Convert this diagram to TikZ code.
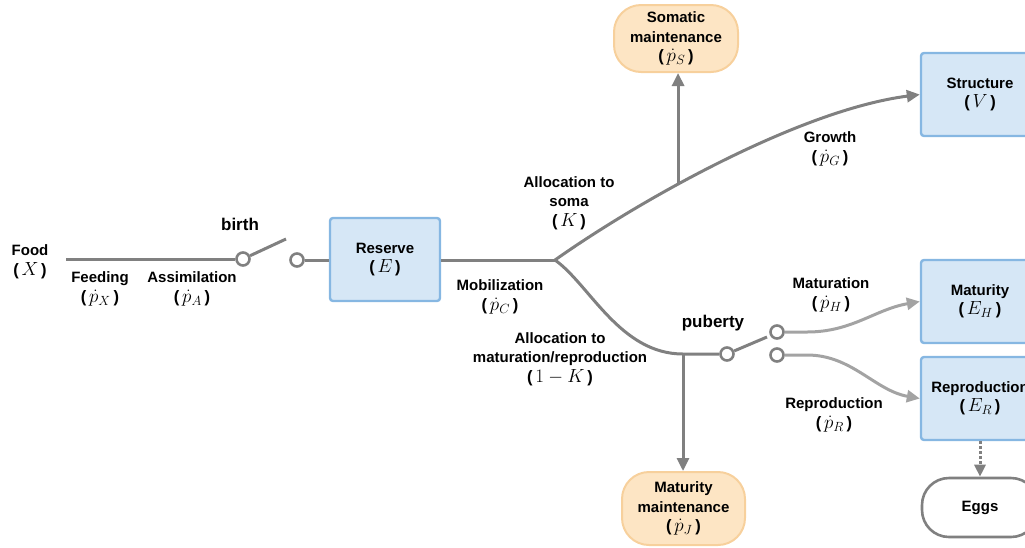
\documentclass[tikz,border=0pt]{standalone}
\usepackage{fix-cm}
\usepackage{fontspec}
\setmainfont{Liberation Sans}
\usetikzlibrary{arrows.meta}
\definecolor{lgray}{HTML}{808080}
\definecolor{lgray2}{HTML}{A3A3A3}
\definecolor{bfill}{HTML}{D6E7F6}
\definecolor{bdraw}{HTML}{86B7E2}
\definecolor{ofill}{HTML}{FDE5C4}
\definecolor{odraw}{HTML}{F7D09C}
\newcommand{\pq}[1]{{\fontsize{16.5}{19.5}\selectfont(\,{\fontsize{19}{19.5}\selectfont$#1$}\,)}}
\begin{document}
\begin{tikzpicture}[x=1pt,y=-1pt,
  lbl/.style={font=\fontsize{15}{19.5}\selectfont\bfseries, align=center, inner sep=0},
  big/.style={font=\fontsize{17}{20}\selectfont\bfseries, inner sep=0},
  flow/.style={draw=lgray, line width=3pt},
  arr/.style={flow, -{Triangle[length=13pt,width=12pt]}},
  arrl/.style={draw=lgray2, line width=3pt, -{Triangle[length=13pt,width=12pt]}},
  dotarr/.style={draw=lgray, line width=3pt, dotted, -{Triangle[length=12pt,width=11pt]}},
  bluebox/.style={lbl, draw=bdraw, fill=bfill, line width=2.4pt, rounded corners=3pt, minimum height=83pt},
  orangebox/.style={lbl, draw=odraw, fill=ofill, line width=2pt, rounded corners=27pt},
  eggbox/.style={lbl, draw=lgray, fill=white, line width=2.6pt, rounded corners=27pt},
  sw/.style={circle, draw=lgray, fill=white, line width=2.6pt, minimum size=13pt, inner sep=0}]
\useasboundingbox (0,0) rectangle (1025,547);

% boxes
\node[bluebox, minimum width=110pt] (reserve) at (385,259.5) {Reserve\\\pq{E}};
\node[bluebox, minimum width=118pt] (structure) at (980,94.5) {Structure\\\pq{V}};
\node[bluebox, minimum width=118pt] (maturity) at (980,301.5) {Maturity\\\pq{E_H}};
\node[bluebox, minimum width=118pt] (repro) at (980,398.5) {Reproduction\\\pq{E_R}};
\node[eggbox, minimum width=116pt, minimum height=59pt] (eggs) at (980,507.5) {Eggs};
\node[orangebox, minimum width=124pt, minimum height=67pt] (soma) at (676,38.5) {Somatic\\maintenance\\\pq{\dot p_S}};
\node[orangebox, minimum width=123pt, minimum height=73pt] (mmaint) at (683.5,508.5) {Maturity\\maintenance\\\pq{\dot p_J}};

% switches
\node[sw] (s1a) at (243,259) {};
\node[sw] (s1b) at (297,260) {};
\coordinate (s1tip) at (286,239);
\node[sw] (s2a) at (727,354) {};
\node[sw] (s2b) at (777,332) {};
\node[sw] (s2c) at (777,355) {};
\coordinate (s2tip) at (767,337);

% connectors
\coordinate (fstart) at (66,259);
\coordinate (branch) at (555,260);
\coordinate (jl) at (683,354);
\draw[flow] (fstart) -- (s1a);
\draw[flow] (s1a) -- (s1tip);
\draw[flow] (s1b) -- (s1b -| reserve.west);
\draw[flow] (reserve.east |- branch) -- (branch);
\draw[arr] (branch) .. controls (640,200) and (800,110) .. (structure.west) coordinate[pos=0.38] (junc);
\draw[arr] (junc) -- (junc |- soma.south);
\draw[flow] (branch) .. controls (590,285) and (620,354) .. (jl) -- (s2a);
\draw[arr] (jl) -- (jl |- mmaint.north);
\draw[flow] (s2a) -- (s2tip);
\draw[arrl] (s2b) -- ++(30,0) .. controls +(45,0) and +(-45,8) .. (maturity.west);
\draw[arrl] (s2c) -- ++(30,0) .. controls +(45,0) and +(-45,-8) .. (repro.west);
\draw[dotarr] (repro.south) -- (eggs.north);

% labels
\node[lbl] (food) at (30,262) {Food\\\pq{X}};
\node[lbl] (feeding) at (100,289) {Feeding\\\pq{\dot p_X}};
\node[lbl] (assim) at (192,289) {Assimilation\\\pq{\dot p_A}};
\node[big] (birth) at (240,224) {birth};
\node[lbl] (mob) at (500,297) {Mobilization\\\pq{\dot p_C}};
\node[lbl] (asoma) at (569,203) {Allocation to\\soma\\\pq{K}};
\node[lbl] (growth) at (830,149) {Growth\\\pq{\dot p_G}};
\node[big] (puberty) at (713,323) {puberty};
\node[lbl] (amat) at (560,359) {Allocation to\\maturation/reproduction\\\pq{1-K}};
\node[lbl] (matur) at (831,295) {Maturation\\\pq{\dot p_H}};
\node[lbl] (reprol) at (834,415) {Reproduction\\\pq{\dot p_R}};
\end{tikzpicture}
\end{document}
